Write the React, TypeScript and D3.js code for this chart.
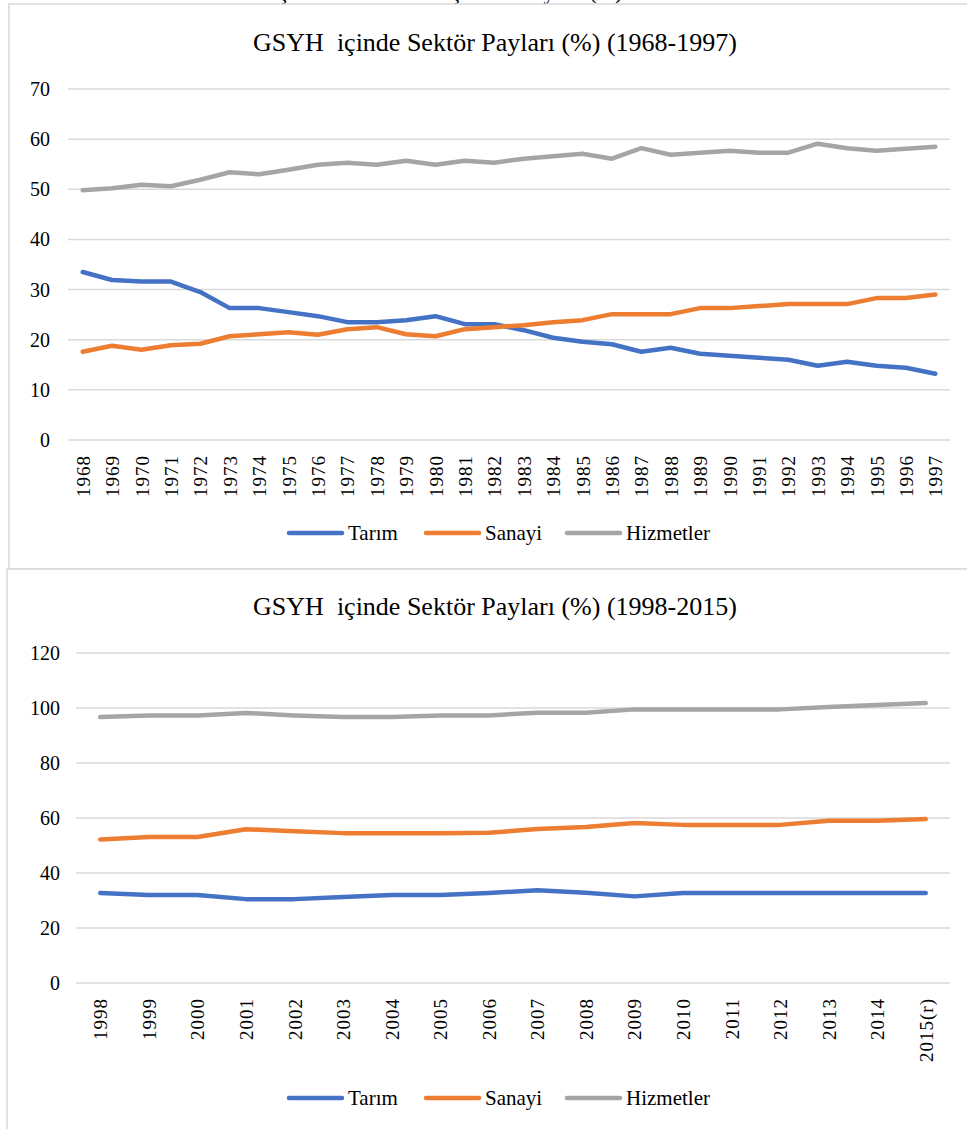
import React from "react";
import * as d3 from "d3";

// 1968-1997
const years1 = [
  "1968", "1969", "1970", "1971", "1972", "1973", "1974", "1975", "1976", "1977",
  "1978", "1979", "1980", "1981", "1982", "1983", "1984", "1985", "1986", "1987",
  "1988", "1989", "1990", "1991", "1992", "1993", "1994", "1995", "1996", "1997",
];
const tarim1 = [
  33.5, 31.9, 31.6, 31.6, 29.5, 26.3, 26.3, 25.5, 24.7, 23.5,
  23.5, 23.9, 24.7, 23.1, 23.1, 21.9, 20.4, 19.6, 19.1, 17.6,
  18.4, 17.2, 16.8, 16.4, 16.0, 14.8, 15.6, 14.8, 14.4, 13.2,
];
const sanayi1 = [
  17.6, 18.8, 18.0, 18.9, 19.2, 20.7, 21.1, 21.5, 21.0, 22.1,
  22.5, 21.1, 20.7, 22.1, 22.5, 22.9, 23.5, 23.9, 25.1, 25.1,
  25.1, 26.3, 26.3, 26.7, 27.1, 27.1, 27.1, 28.3, 28.3, 29.0,
];
const hizmet1 = [
  49.8, 50.2, 50.9, 50.6, 51.9, 53.4, 53.0, 53.9, 54.9, 55.3,
  54.9, 55.7, 54.9, 55.7, 55.3, 56.1, 56.6, 57.1, 56.1, 58.2,
  56.9, 57.3, 57.7, 57.3, 57.3, 59.1, 58.2, 57.7, 58.1, 58.5,
];
const ticks1 = [0, 10, 20, 30, 40, 50, 60, 70];

// 1998-2015
const years2 = [
  "1998", "1999", "2000", "2001", "2002", "2003", "2004", "2005", "2006",
  "2007", "2008", "2009", "2010", "2011", "2012", "2013", "2014", "2015(r)",
];
const tarim2 = [32.7, 32.0, 32.0, 30.5, 30.5, 31.3, 32.0, 32.0, 32.7, 33.7, 32.8, 31.5, 32.7, 32.7, 32.7, 32.7, 32.7, 32.7];
const sanayi2 = [52.2, 53.1, 53.1, 55.9, 55.2, 54.5, 54.5, 54.5, 54.6, 56.0, 56.7, 58.2, 57.5, 57.5, 57.5, 59.0, 59.0, 59.6];
const hizmet2 = [96.7, 97.3, 97.3, 98.2, 97.3, 96.7, 96.7, 97.3, 97.3, 98.3, 98.3, 99.5, 99.5, 99.5, 99.5, 100.4, 101.1, 101.8];
const ticks2 = [0, 20, 40, 60, 80, 100, 120];

const seriesNames = ["Tarım", "Sanayi", "Hizmetler"];
const colors = ["#4472C4", "#ED7D31", "#A5A5A5"];

const FONT = "Liberation Serif, Times New Roman, serif";

type ChartProps = {
  title: string;
  years: string[];
  series: number[][];
  ticks: number[];
  top: number; // y of the chart title baseline
  left: number;
  right: number;
  yTop: number;
  yBottom: number;
  labelX: number;
  legendY: number;
};

const Chart = ({ title, years, series, ticks, top, left, right, yTop, yBottom, labelX, legendY }: ChartProps) => {
  const x = d3.scaleBand().domain(years).range([left, right]).paddingInner(0).paddingOuter(0);
  const y = d3
    .scaleLinear()
    .domain([0, d3.max(ticks) as number])
    .range([yBottom, yTop]);
  const line = d3
    .line<number>()
    .x((_, i) => (x(years[i]) as number) + x.bandwidth() / 2)
    .y((d) => y(d));

  // legend layout
  const legendX = [287, 424, 565];

  return (
    <g>
      <text
        x={495}
        y={top}
        textAnchor="middle"
        fontFamily={FONT}
        fontSize={26}
        fill="#000"
        style={{ whiteSpace: "pre" }}
      >
        {title}
      </text>
      {ticks.map((t) => (
        <g key={t}>
          <line x1={left} x2={right} y1={y(t)} y2={y(t)} stroke="#d9d9d9" strokeWidth={1.5} />
          <text x={labelX} y={y(t)} dy="0.35em" textAnchor="end" fontFamily={FONT} fontSize={20} fill="#000">
            {t}
          </text>
        </g>
      ))}
      {years.map((yr) => {
        const cx = (x(yr) as number) + x.bandwidth() / 2 + 7;
        const ty = yBottom + 15;
        return (
          <text
            key={yr}
            transform={`translate(${cx},${ty}) rotate(-90)`}
            textAnchor="end"
            fontFamily={FONT}
            fontSize={19}
            letterSpacing={1}
            fill="#000"
          >
            {yr}
          </text>
        );
      })}
      {series.map((s, i) => (
        <path
          key={i}
          d={line(s) || ""}
          fill="none"
          stroke={colors[i]}
          strokeWidth={4.5}
          strokeLinecap="round"
          strokeLinejoin="round"
        />
      ))}
      {seriesNames.map((n, i) => (
        <g key={n}>
          <line
            x1={legendX[i] + 2}
            x2={legendX[i] + 55}
            y1={legendY}
            y2={legendY}
            stroke={colors[i]}
            strokeWidth={4.5}
            strokeLinecap="round"
          />
          <text x={legendX[i] + 61} y={legendY} dy="0.35em" fontFamily={FONT} fontSize={21} fill="#000">
            {n}
          </text>
        </g>
      ))}
    </g>
  );
};

export default function App() {
  return (
    <svg
      width={967}
      height={1129}
      style={{ position: "absolute", left: 0, top: 0, background: "#fff" }}
    >
      <rect width={967} height={1129} fill="#fff" />
      {/* caption of the page, mostly cut off at the top */}
      <text x={177} y={-1} fontFamily={FONT} fontSize={22} fill="#000">
        Grafik 1: Üç Sektörün GSYH İçindeki Payları (%)
      </text>
      {/* chart frames */}
      <rect x={9} y={4} width={980} height={565} fill="#fff" stroke="#d9d9d9" strokeWidth={1.5} />
      <rect x={7} y={569} width={982} height={600} fill="#fff" stroke="#d9d9d9" strokeWidth={1.5} />
      <Chart
        title="GSYH  içinde Sektör Payları (%) (1968-1997)"
        years={years1}
        series={[tarim1, sanayi1, hizmet1]}
        ticks={ticks1}
        top={51}
        left={68}
        right={950}
        yTop={89}
        yBottom={440}
        labelX={50}
        legendY={533}
      />
      <Chart
        title="GSYH  içinde Sektör Payları (%) (1998-2015)"
        years={years2}
        series={[tarim2, sanayi2, hizmet2]}
        ticks={ticks2}
        top={615}
        left={76}
        right={950}
        yTop={653}
        yBottom={983}
        labelX={60}
        legendY={1098}
      />
    </svg>
  );
}
